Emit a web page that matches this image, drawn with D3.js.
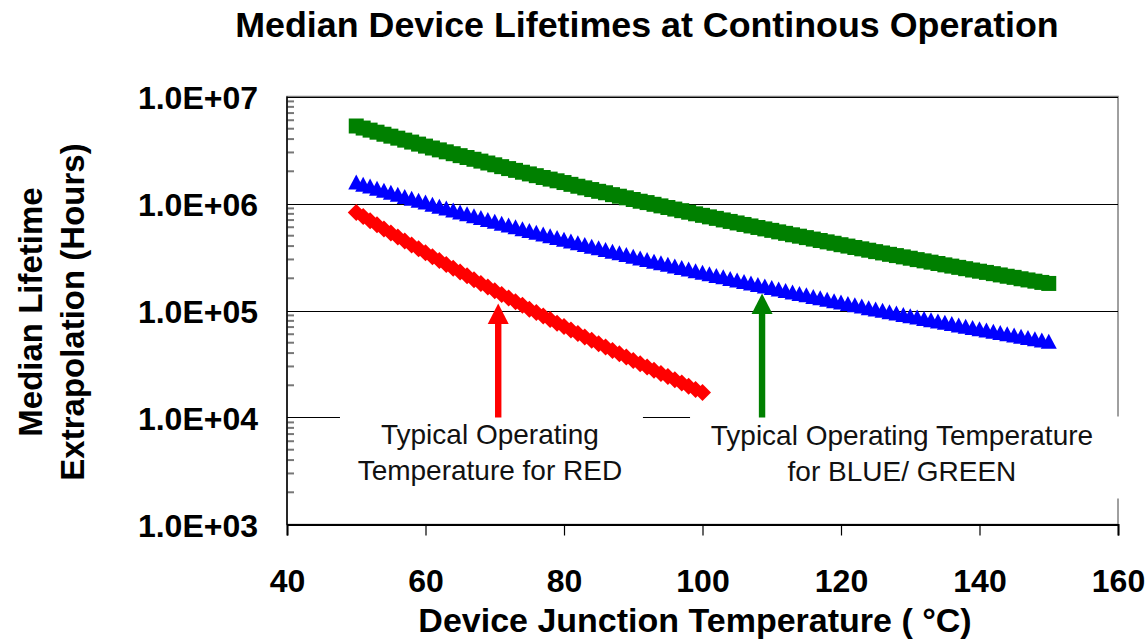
<!DOCTYPE html>
<html>
<head>
<meta charset="utf-8">
<script src="https://cdn.jsdelivr.net/npm/d3@7"></script>
<style>
  body { margin: 0; background: #fff; }
  svg { display: block; font-family: "Liberation Sans", Arial, sans-serif; }
</style>
</head>
<body>
<svg id="chart" width="1148" height="639"></svg>
<script>
const temperatures = [
  50, 51, 52, 53, 54, 55, 56, 57, 58, 59,
  60, 61, 62, 63, 64, 65, 66, 67, 68, 69,
  70, 71, 72, 73, 74, 75, 76, 77, 78, 79,
  80, 81, 82, 83, 84, 85, 86, 87, 88, 89,
  90, 91, 92, 93, 94, 95, 96, 97, 98, 99,
  100, 101, 102, 103, 104, 105, 106, 107, 108, 109,
  110, 111, 112, 113, 114, 115, 116, 117, 118, 119,
  120, 121, 122, 123, 124, 125, 126, 127, 128, 129,
  130, 131, 132, 133, 134, 135, 136, 137, 138, 139,
  140, 141, 142, 143, 144, 145, 146, 147, 148, 149,
  150,
];

// hours, one value per degree
const greenLifetimes = [
  5.30e6, 5.07e6, 4.85e6, 4.64e6, 4.44e6, 4.26e6, 4.08e6, 3.91e6, 3.75e6, 3.59e6,
  3.44e6, 3.30e6, 3.17e6, 3.04e6, 2.92e6, 2.80e6, 2.69e6, 2.59e6, 2.49e6, 2.39e6,
  2.30e6, 2.21e6, 2.12e6, 2.04e6, 1.96e6, 1.89e6, 1.82e6, 1.75e6, 1.69e6, 1.63e6,
  1.57e6, 1.51e6, 1.45e6, 1.40e6, 1.35e6, 1.30e6, 1.26e6, 1.21e6, 1.17e6, 1.13e6,
  1.09e6, 1.05e6, 1.02e6, 9.83e5, 9.50e5, 9.18e5, 8.87e5, 8.57e5, 8.29e5, 8.01e5,
  7.75e5, 7.50e5, 7.26e5, 7.02e5, 6.80e5, 6.58e5, 6.37e5, 6.17e5, 5.97e5, 5.79e5,
  5.61e5, 5.43e5, 5.26e5, 5.10e5, 4.95e5, 4.80e5, 4.65e5, 4.51e5, 4.38e5, 4.25e5,
  4.12e5, 4.00e5, 3.88e5, 3.77e5, 3.66e5, 3.55e5, 3.45e5, 3.35e5, 3.26e5, 3.17e5,
  3.08e5, 2.99e5, 2.91e5, 2.83e5, 2.75e5, 2.67e5, 2.60e5, 2.53e5, 2.46e5, 2.39e5,
  2.33e5, 2.27e5, 2.21e5, 2.15e5, 2.09e5, 2.04e5, 1.98e5, 1.93e5, 1.88e5, 1.83e5,
  1.79e5,
];

const blueLifetimes = [
  1.57e6, 1.50e6, 1.44e6, 1.37e6, 1.315e6, 1.26e6, 1.205e6, 1.15e6, 1.11e6, 1.06e6,
  1.02e6, 9.74e5, 9.34e5, 8.96e5, 8.60e5, 8.25e5, 7.92e5, 7.61e5, 7.31e5, 7.02e5,
  6.75e5, 6.48e5, 6.23e5, 5.99e5, 5.76e5, 5.54e5, 5.33e5, 5.13e5, 4.94e5, 4.76e5,
  4.58e5, 4.41e5, 4.25e5, 4.10e5, 3.95e5, 3.81e5, 3.67e5, 3.54e5, 3.42e5, 3.30e5,
  3.18e5, 3.07e5, 2.96e5, 2.86e5, 2.76e5, 2.67e5, 2.58e5, 2.49e5, 2.41e5, 2.33e5,
  2.25e5, 2.18e5, 2.10e5, 2.04e5, 1.97e5, 1.91e5, 1.85e5, 1.79e5, 1.73e5, 1.68e5,
  1.62e5, 1.57e5, 1.52e5, 1.47e5, 1.43e5, 1.39e5, 1.34e5, 1.30e5, 1.26e5, 1.22e5,
  1.19e5, 1.15e5, 1.12e5, 1.09e5, 1.05e5, 1.02e5, 9.93e4, 9.65e4, 9.37e4, 9.10e4,
  8.84e4, 8.59e4, 8.35e4, 8.11e4, 7.89e4, 7.67e4, 7.46e4, 7.25e4, 7.05e4, 6.86e4,
  6.67e4, 6.49e4, 6.32e4, 6.15e4, 5.99e4, 5.83e4, 5.67e4, 5.52e4, 5.38e4, 5.24e4,
  5.11e4,
];

// red stops at 100 C
const redLifetimes = [
  8.24e5, 7.54e5, 6.90e5, 6.32e5, 5.79e5, 5.31e5, 4.87e5, 4.46e5, 4.10e5, 3.77e5,
  3.46e5, 3.18e5, 2.93e5, 2.69e5, 2.48e5, 2.29e5, 2.11e5, 1.94e5, 1.79e5, 1.66e5,
  1.53e5, 1.41e5, 1.31e5, 1.21e5, 1.12e5, 1.03e5, 9.58e4, 8.87e4, 8.22e4, 7.62e4,
  7.07e4, 6.56e4, 6.09e4, 5.66e4, 5.26e4, 4.89e4, 4.55e4, 4.23e4, 3.94e4, 3.67e4,
  3.41e4, 3.18e4, 2.97e4, 2.77e4, 2.58e4, 2.41e4, 2.25e4, 2.10e4, 1.96e4, 1.83e4,
  1.71e4,
];

const xTicks = [40, 60, 80, 100, 120, 140, 160];
const yTicks = [1e3, 1e4, 1e5, 1e6, 1e7];

const arrowTemps = [70.5, 108.6];
const arrowTips = [1.16e5, 1.44e5];
const noteLinesRed = ['Typical Operating', 'Temperature for RED'];
const noteLinesBlueGreen = ['Typical Operating Temperature', 'for BLUE/ GREEN'];

const svg = d3.select('#chart');

const x = d3.scaleLinear().domain([40, 160]).range([287, 1118]);
const y = d3.scaleLog().domain([1e3, 1e7]).range([524.5, 96.5]);

function formatExp(d) {
  const exp = Math.round(Math.log10(d));
  return `1.0E+${String(exp).padStart(2, '0')}`;
}

const triangle = {
  draw(ctx) {
    ctx.moveTo(0, -8);
    ctx.lineTo(8, 7);
    ctx.lineTo(-8, 7);
    ctx.closePath();
  },
};

const diamond = {
  draw(ctx) {
    ctx.moveTo(0, -8.5);
    ctx.lineTo(8.5, 0);
    ctx.lineTo(0, 8.5);
    ctx.lineTo(-8.5, 0);
    ctx.closePath();
  },
};

const square = {
  draw(ctx) {
    ctx.rect(-7.5, -7.5, 15, 15);
  },
};

// plot area border
svg.append('rect')
  .attr('x', x(40))
  .attr('y', y(1e7))
  .attr('width', x(160) - x(40))
  .attr('height', y(1e3) - y(1e7))
  .attr('fill', 'none')
  .attr('stroke', '#808080')
  .attr('stroke-width', 1.5);

// gridlines
svg.append('g')
  .selectAll('line')
  .data(yTicks.slice(1))
  .join('line')
  .attr('x1', x(40))
  .attr('x2', x(160))
  .attr('y1', (d) => Math.round(y(d)) + 0.5)
  .attr('y2', (d) => Math.round(y(d)) + 0.5)
  .attr('stroke', '#000')
  .attr('stroke-width', 1);

// minor ticks on the log axis
const minorTicks = y.ticks().filter((d) => Math.abs(Math.log10(d) % 1) > 1e-6);
svg.append('g')
  .selectAll('line')
  .data(minorTicks)
  .join('line')
  .attr('x1', x(40))
  .attr('x2', x(40) + 7)
  .attr('y1', (d) => y(d))
  .attr('y2', (d) => y(d))
  .attr('stroke', '#777')
  .attr('stroke-width', 2);

// white boxes behind the notes (they hide part of the 1E+04 gridline)
const boxTop = Math.round(y(1e4)) - 0.5;
svg.append('rect')
  .attr('x', x(47.65)).attr('y', boxTop)
  .attr('width', x(91.4) - x(47.65)).attr('height', 82)
  .attr('fill', '#fff');
svg.append('rect')
  .attr('x', x(98.2)).attr('y', boxTop)
  .attr('width', x(161.5) - x(98.2)).attr('height', 82)
  .attr('fill', '#fff');

// y axis
const yAxis = svg.append('g')
  .attr('transform', `translate(${x(40)},0)`)
  .call(d3.axisLeft(y).tickValues(yTicks).tickSize(0).tickPadding(29).tickFormat(formatExp));
yAxis.select('.domain').remove();
yAxis.selectAll('text')
  .attr('font-family', '"Liberation Sans", Arial, sans-serif')
  .attr('font-size', 32)
  .attr('font-weight', 'bold')
  .attr('fill', '#000')
  .attr('dy', '0.36em');

svg.append('line')
  .attr('x1', x(40)).attr('x2', x(40))
  .attr('y1', y(1e7)).attr('y2', y(1e3))
  .attr('stroke', '#000')
  .attr('stroke-width', 1.5);

// x axis
const xAxis = svg.append('g')
  .attr('transform', `translate(0,${y(1e3)})`)
  .call(d3.axisBottom(x).tickValues(xTicks).tickSize(11).tickPadding(34).tickFormat(d3.format('d')));
xAxis.select('.domain')
  .attr('stroke', '#000')
  .attr('stroke-width', 2);
xAxis.selectAll('.tick line').attr('stroke', '#000').attr('stroke-width', 1.2);
xAxis.selectAll('text')
  .attr('font-family', '"Liberation Sans", Arial, sans-serif')
  .attr('font-size', 32)
  .attr('font-weight', 'bold')
  .attr('fill', '#000');

// series
function drawSeries(values, type, color) {
  svg.append('g')
    .selectAll('path')
    .data(values)
    .join('path')
    .attr('transform', (d, i) => `translate(${x(temperatures[i])},${y(d)})`)
    .attr('d', d3.symbol().type(type))
    .attr('fill', color);
}

drawSeries(greenLifetimes, square, '#008000');
drawSeries(blueLifetimes, triangle, '#0000FF');
drawSeries(redLifetimes, diamond, '#FF0000');

// arrows
const arrowColors = ['#FF0000', '#008000'];
arrowTemps.forEach((t, i) => {
  const cx = x(t);
  const tipY = y(arrowTips[i]);
  const baseY = y(1e4);
  const g = svg.append('g').attr('fill', arrowColors[i]);
  g.append('rect')
    .attr('x', cx - 3.2)
    .attr('y', tipY + 19)
    .attr('width', 6.4)
    .attr('height', baseY - tipY - 19);
  g.append('path')
    .attr('d', `M${cx},${tipY}L${cx + 10.5},${tipY + 20.5}L${cx - 10.5},${tipY + 20.5}Z`);
});

// notes
function drawNote(lines, centerTemp, firstBaseline) {
  svg.append('text')
    .attr('x', x(centerTemp))
    .attr('y', firstBaseline)
    .attr('text-anchor', 'middle')
    .attr('font-size', 28)
    .attr('fill', '#111')
    .selectAll('tspan')
    .data(lines)
    .join('tspan')
    .attr('x', x(centerTemp))
    .attr('dy', (d, i) => (i === 0 ? 0 : 36))
    .text((d) => d);
}

drawNote(noteLinesRed, 69.3, 444);
drawNote(noteLinesBlueGreen, 128.8, 445);

// titles
svg.append('text')
  .attr('x', 647)
  .attr('y', 37)
  .attr('text-anchor', 'middle')
  .attr('font-size', 35.8)
  .attr('font-weight', 'bold')
  .text('Median Device Lifetimes at Continous Operation');

svg.append('text')
  .attr('x', 695)
  .attr('y', 632)
  .attr('text-anchor', 'middle')
  .attr('font-size', 34)
  .attr('font-weight', 'bold')
  .text('Device Junction Temperature ( °C)');

const yTitle = svg.append('text')
  .attr('transform', 'translate(0,312) rotate(-90)')
  .attr('text-anchor', 'middle')
  .attr('font-size', 33)
  .attr('font-weight', 'bold');
yTitle.append('tspan').attr('x', 0).attr('y', 42).text('Median Lifetime');
yTitle.append('tspan').attr('x', 0).attr('y', 84).text('Extrapolation (Hours)');
</script>
</body>
</html>
